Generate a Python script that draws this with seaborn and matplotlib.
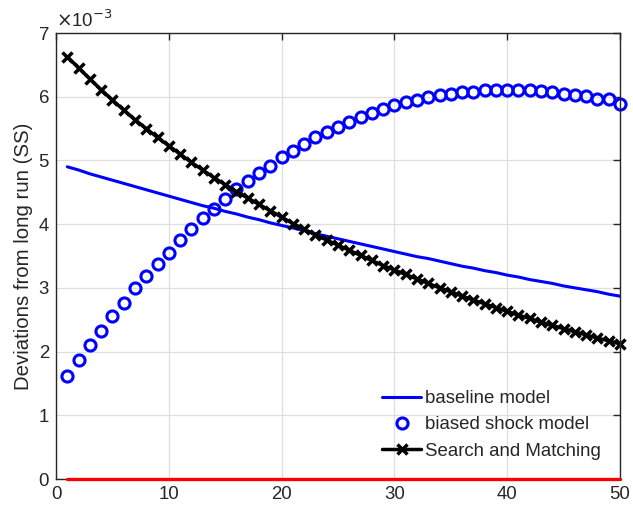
import matplotlib
matplotlib.use("Agg")
import matplotlib.pyplot as plt
import seaborn as sns
import pandas as pd

periods = list(range(1, 51))

# values in units of 1e-3
baseline = [4.90, 4.85, 4.79, 4.74, 4.69, 4.64, 4.59, 4.54, 4.49, 4.44,
            4.39, 4.34, 4.29, 4.25, 4.20, 4.16, 4.11, 4.07, 4.02, 3.98,
            3.94, 3.90, 3.85, 3.81, 3.77, 3.73, 3.69, 3.65, 3.61, 3.57,
            3.53, 3.49, 3.46, 3.42, 3.38, 3.34, 3.31, 3.27, 3.24, 3.20,
            3.17, 3.13, 3.10, 3.07, 3.03, 3.00, 2.97, 2.94, 2.90, 2.87]

biased = [1.62, 1.87, 2.10, 2.33, 2.56, 2.77, 2.99, 3.19, 3.38, 3.55,
          3.75, 3.92, 4.09, 4.23, 4.40, 4.55, 4.68, 4.80, 4.92, 5.05,
          5.15, 5.26, 5.36, 5.44, 5.52, 5.60, 5.68, 5.74, 5.80, 5.87,
          5.91, 5.95, 5.99, 6.02, 6.04, 6.07, 6.08, 6.10, 6.10, 6.10,
          6.10, 6.10, 6.09, 6.08, 6.05, 6.03, 6.01, 5.97, 5.96, 5.89]

search = [6.63, 6.45, 6.28, 6.11, 5.95, 5.79, 5.64, 5.50, 5.36, 5.23,
          5.10, 4.97, 4.85, 4.73, 4.62, 4.51, 4.41, 4.31, 4.21, 4.11,
          4.01, 3.92, 3.83, 3.75, 3.67, 3.59, 3.51, 3.43, 3.35, 3.28,
          3.21, 3.14, 3.07, 3.00, 2.94, 2.87, 2.81, 2.75, 2.69, 2.63,
          2.57, 2.52, 2.46, 2.41, 2.36, 2.31, 2.26, 2.21, 2.17, 2.12]

zero_line = [0.0] * 50

x_ticks = [0, 10, 20, 30, 40, 50]
y_ticks = [0, 1, 2, 3, 4, 5, 6, 7]

sns.set_style("white")
plt.rcParams['font.family'] = ['Liberation Sans', 'DejaVu Sans']

fig = plt.figure(figsize=(6.33, 5.11), dpi=100)
ax = fig.add_axes([56 / 633, 32 / 511, 564 / 633, 446 / 511])

df = pd.DataFrame({"t": periods, "baseline": baseline, "biased": biased,
                   "search": search, "zero": zero_line})

sns.lineplot(data=df, x="t", y="baseline", color="blue", lw=2.2, ax=ax,
             label="baseline model")
sns.lineplot(data=df, x="t", y="biased", linestyle="none", marker="o",
             markersize=8, markerfacecolor="none", markeredgecolor="blue",
             markeredgewidth=2.2, color="blue", ax=ax, label="biased shock model",
             clip_on=False)
sns.lineplot(data=df, x="t", y="search", color="black", lw=2.5, marker="x",
             markersize=7, markeredgewidth=2.5, markeredgecolor="black", ax=ax,
             label="Search and Matching", clip_on=False)
sns.lineplot(data=df, x="t", y="zero", color="#ff0000", lw=2.4, ax=ax, legend=False,
             clip_on=False, zorder=5)

ax.set_xlim(0, 50)
ax.set_ylim(0, 7)
ax.set_xticks(x_ticks)
ax.set_yticks(y_ticks)
ax.set_xticklabels([str(v) for v in x_ticks])
ax.set_yticklabels([str(v) for v in y_ticks])
ax.set_xlabel("")
ax.set_ylabel("Deviations from long run (SS)", fontsize=14.7, color="#262626", labelpad=4)

ax.grid(True, color="#dfdfdf", lw=0.9)
ax.set_axisbelow(True)
for s in ax.spines.values():
    s.set_visible(True)
    s.set_color("#262626")
    s.set_linewidth(1.0)
ax.tick_params(direction="in", length=5, width=1, colors="#262626",
               labelsize=13.4, top=True, right=True, pad=5)

ax.text(0.0, 1.005, r"$\times$10$^{-3}$", transform=ax.transAxes, fontsize=13.4,
        color="#262626", ha="left", va="bottom")

leg = ax.legend(loc="upper left", bbox_to_anchor=((382 - 56) / 564, (479 - 390) / 446),
                frameon=False, fontsize=13.4, handlelength=2.1, handletextpad=0.2,
                labelspacing=0.5, borderpad=0, borderaxespad=0)
for t in leg.get_texts():
    t.set_color("#262626")

fig.savefig("out.png", dpi=100)
